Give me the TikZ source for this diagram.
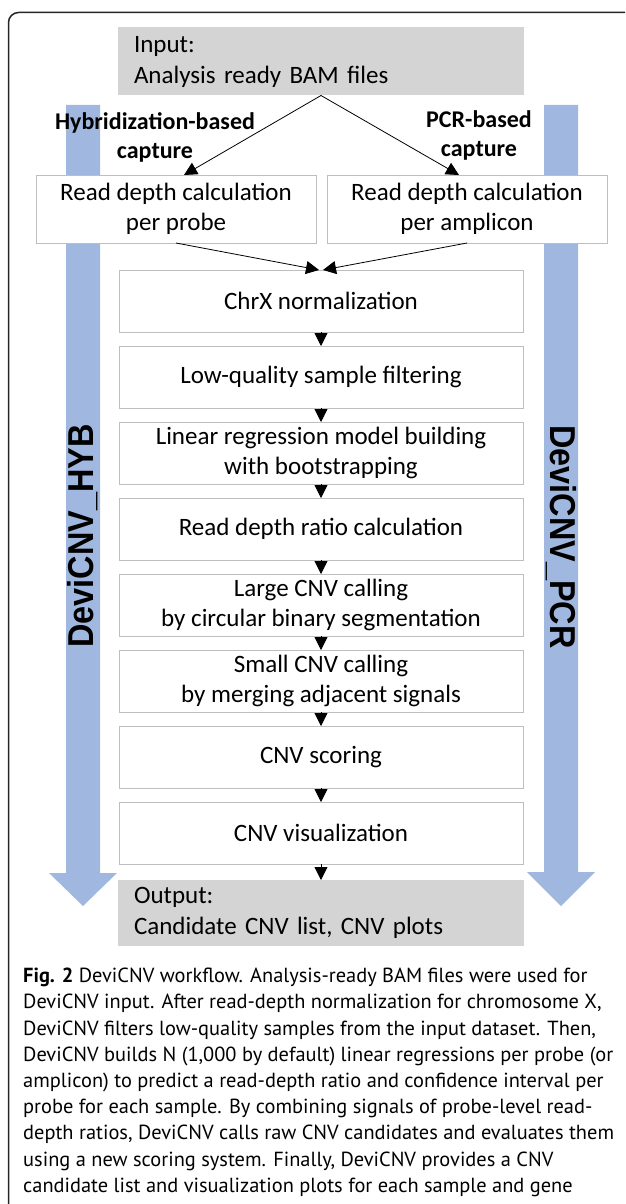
\documentclass[tikz,border=0pt]{standalone}
\usepackage{xcolor}
\usepackage{fontspec}
\setmainfont{Carlito}
\newfontfamily\capfont{PT Sans}
\newfontfamily\sidefont{Liberation Sans}
\usepackage{tikz}
\usetikzlibrary{positioning,calc,arrows.meta}

\definecolor{flowblue}{RGB}{160,184,224}
\definecolor{iogray}{RGB}{212,212,212}
\definecolor{boxline}{RGB}{190,190,190}

\begin{document}
\begin{tikzpicture}[x=1pt, y=-1pt, node distance=14pt, auto,
        stagebox/.style={rectangle, draw=boxline, line width=0.8pt, fill=white, minimum width=404pt, minimum height=62pt, inner sep=2pt, outer sep=0pt, align=center, font=\fontsize{25}{30.5}\selectfont},
        iobox/.style={rectangle, fill=iogray, minimum height=68pt, text width=374pt, inner xsep=16pt, outer sep=0pt, align=left, font=\fontsize{25}{31}\selectfont},
        flow/.style={-{Triangle[length=13pt,width=13pt]}, line width=0.8pt}]
        \useasboundingbox (0,0) rectangle (625,1204);

        % frame of the figure
        \draw[line width=1.5pt, black!85, rounded corners=10pt] (8.5,1204) -- (8.5,12.5) -- (625,12.5);

        % the two pipeline arrows
        \fill[flowblue] (66,105) -- (100,105) -- (100,873) -- (117,873) -- (83,906) -- (49,873) -- (66,873) -- cycle;
        \fill[flowblue] (544,105) -- (578,105) -- (578,872) -- (595,872) -- (561,906) -- (527,872) -- (544,872) -- cycle;
        \node (hyb) [rotate=90, inner sep=0, font=\sidefont\bfseries\fontsize{36}{36}\selectfont] at (83,536) {\scalebox{0.9}[1]{DeviCNV\_HYB}};
        \node (pcr) [rotate=-90, inner sep=0, font=\sidefont\bfseries\fontsize{36}{36}\selectfont] at (561,537) {\scalebox{0.9}[1]{DeviCNV\_PCR}};

        \node (input) [iobox] at (321,61.5) {Input:\\Analysis ready BAM files};

        \node (hyblabel) [align=center, inner sep=0, font=\bfseries\fontsize{24}{29}\selectfont] at (155,137) {Hybridization-based\\capture};
        \node (pcrlabel) [align=center, inner sep=0, font=\bfseries\fontsize{24}{29}\selectfont] at (479,135) {PCR-based\\capture};

        \node (readprobe) [stagebox, minimum width=280pt, minimum height=68pt] at (176,209) {Read depth calculation\\per probe};
        \node (readamp) [stagebox, minimum width=280pt, minimum height=68pt] at (467,209) {Read depth calculation\\per amplicon};

        \node (chrx) [stagebox] at (321,301) {ChrX normalization};
        \node (lowq) [stagebox, below=of chrx] {Low-quality sample filtering};
        \node (linreg) [stagebox, below=of lowq] {Linear regression model building\\with bootstrapping};
        \node (ratio) [stagebox, below=of linreg] {Read depth ratio calculation};
        \node (large) [stagebox, below=of ratio] {Large CNV calling\\by circular binary segmentation};
        \node (small) [stagebox, below=of large] {Small CNV calling\\by merging adjacent signals};
        \node (score) [stagebox, below=of small] {CNV scoring};
        \node (visual) [stagebox, below=of score] {CNV visualization};
        \node (output) [iobox, minimum height=66pt, below=16pt of visual] {Output:\\Candidate CNV list, CNV plots};

        % split by capture type, then merge
        \draw[flow] (input.south) -- ($(readprobe.north)+(8,0)$);
        \draw[flow] (input.south) -- ($(readamp.north)+(-8,0)$);
        \draw[flow] (readprobe.south) -- ($(chrx.north)+(-2,0)$);
        \draw[flow] (readamp.south) -- ($(chrx.north)+(2,0)$);

        \draw[flow] (chrx) -- (lowq);
        \draw[flow] (lowq) -- (linreg);
        \draw[flow] (linreg) -- (ratio);
        \draw[flow] (ratio) -- (large);
        \draw[flow] (large) -- (small);
        \draw[flow] (small) -- (score);
        \draw[flow] (score) -- (visual);
        \draw[flow] (visual) -- (output);

        \node (caption) [anchor=north west, align=left, inner sep=0, font=\capfont\fontsize{20.4}{26.2}\selectfont] at (23,968) {\textbf{Fig. 2} DeviCNV workflow. Analysis-ready BAM files were used for\\
DeviCNV input. After read-depth normalization for chromosome X,\\
DeviCNV filters low-quality samples from the input dataset. Then,\\
DeviCNV builds N (1,000 by default) linear regressions per probe (or\\
amplicon) to predict a read-depth ratio and confidence interval per\\
probe for each sample. By combining signals of probe-level read-\\
depth ratios, DeviCNV calls raw CNV candidates and evaluates them\\
using a new scoring system. Finally, DeviCNV provides a CNV\\
candidate list and visualization plots for each sample and gene};
    \end{tikzpicture}
\end{document}
